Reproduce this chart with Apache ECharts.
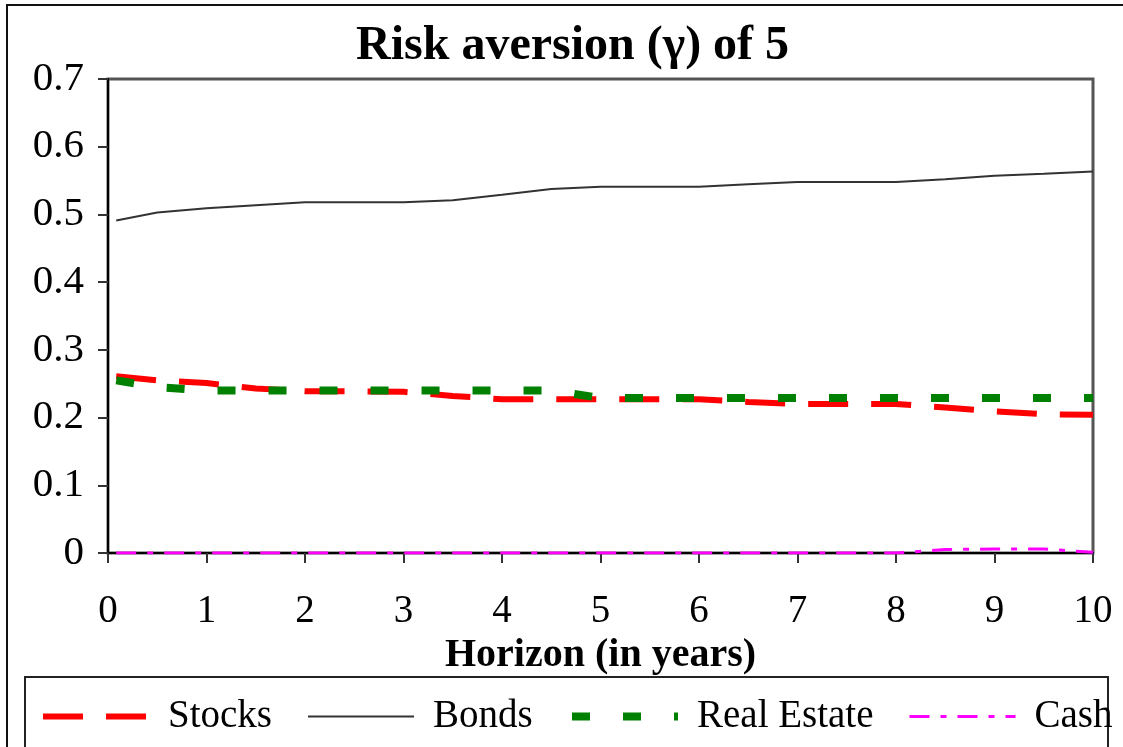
<!DOCTYPE html>
<html>
<head>
<meta charset="utf-8">
<script src="https://cdn.jsdelivr.net/npm/echarts@6/dist/echarts.min.js"></script>
<style>
  html, body { margin: 0; padding: 0; background: #fff; }
  #chart { width: 1123px; height: 747px; }
</style>
</head>
<body>
<div id="chart"></div>
<script>
// horizon in years (first point is one month)
const horizon = [1 / 12, 0.5, 1, 1.5, 2, 2.5, 3, 3.5, 4, 4.5, 5, 5.5, 6, 6.5, 7, 7.5, 8, 8.5, 9, 9.5, 10]
const stocks = [0.261, 0.255, 0.251, 0.243, 0.239, 0.2387, 0.238, 0.232, 0.227, 0.227, 0.227, 0.227, 0.227, 0.223, 0.220, 0.220, 0.220, 0.215, 0.209, 0.205, 0.204]
const bonds = [0.491, 0.503, 0.509, 0.5135, 0.518, 0.518, 0.518, 0.521, 0.529, 0.5375, 0.541, 0.541, 0.541, 0.5445, 0.548, 0.548, 0.548, 0.552, 0.557, 0.560, 0.5635]
const realEstate = [0.255, 0.245, 0.240, 0.240, 0.240, 0.240, 0.240, 0.240, 0.240, 0.240, 0.229, 0.229, 0.229, 0.229, 0.229, 0.229, 0.229, 0.229, 0.229, 0.229, 0.229]
const cash = [0, 0, 0, 0, 0, 0, 0, 0, 0, 0, 0, 0, 0, 0, 0, 0, 0, 0.005, 0.006, 0.006, 0.001]
const yTicks = ['0', '0.1', '0.2', '0.3', '0.4', '0.5', '0.6', '0.7']

const FONT = 'Liberation Serif'
const pairs = vals => horizon.map((h, i) => [h, vals[i]])

const seriesDefs = [
  { name: 'Stocks', data: stocks, color: '#ff0000', width: 6, type: [40, 23] },
  { name: 'Bonds', data: bonds, color: '#333333', width: 2, type: 'solid' },
  { name: 'Real Estate', data: realEstate, color: '#008000', width: 8, type: [18, 33] },
  { name: 'Cash', data: cash, color: '#ff00ff', width: 3, type: [20, 11, 6, 11] }
]
const legendLeft = [40, 307, 568, 908]

const chart = echarts.init(document.getElementById('chart'))
chart.setOption({
  backgroundColor: '#fff',
  animation: false,
  title: {
    text: 'Risk aversion (γ) of 5',
    left: 356,
    top: 23,
    padding: 0,
    textStyle: { fontFamily: FONT, fontWeight: 'bold', fontSize: 48, color: '#000' }
  },
  grid: {
    left: 108, right: 30, top: 79, bottom: 194,
    show: true, borderColor: '#555', borderWidth: 3
  },
  xAxis: {
    type: 'value',
    min: 0, max: 10, interval: 1,
    name: 'Horizon (in years)',
    nameLocation: 'middle',
    nameGap: 82,
    nameTextStyle: { fontFamily: FONT, fontWeight: 'bold', fontSize: 40, color: '#000' },
    axisLine: { lineStyle: { color: '#000', width: 2 } },
    axisTick: { show: true, length: 10, lineStyle: { color: '#333', width: 2 } },
    axisLabel: { margin: 39, fontFamily: FONT, fontSize: 39, color: '#000' },
    splitLine: { show: false }
  },
  yAxis: {
    type: 'value',
    min: 0, max: 0.7, interval: 0.1,
    axisLine: { show: true, lineStyle: { color: '#000', width: 2 } },
    axisTick: { show: true, length: 10, lineStyle: { color: '#333', width: 2 } },
    axisLabel: {
      margin: 24, fontFamily: FONT, fontSize: 41, color: '#000',
      formatter: v => yTicks[Math.round(v * 10)]
    },
    splitLine: { show: false }
  },
  legend: seriesDefs.map((s, i) => ({
    data: [{
      name: s.name,
      itemStyle: { opacity: 0 },
      lineStyle: { color: s.color, width: s.width, type: s.type, cap: 'butt' }
    }],
    left: legendLeft[i],
    top: 697,
    padding: 0,
    itemWidth: 106,
    itemHeight: 16,
    selectedMode: false,
    textStyle: { fontFamily: FONT, fontSize: 39, color: '#000', padding: [0, 0, 0, 14] }
  })),
  graphic: [
    { type: 'rect', shape: { x: 7, y: 5, width: 1300, height: 900 }, style: { fill: 'none', stroke: '#111', lineWidth: 2 }, silent: true },
    { type: 'rect', shape: { x: 25, y: 677, width: 1083, height: 200 }, style: { fill: 'none', stroke: '#222', lineWidth: 2 }, silent: true }
  ],
  series: seriesDefs.map(s => ({
    name: s.name,
    type: 'line',
    data: pairs(s.data),
    symbol: 'none',
    smooth: false,
    lineStyle: { color: s.color, width: s.width, type: s.type, cap: 'butt' },
    itemStyle: { color: s.color }
  }))
})
</script>
</body>
</html>
